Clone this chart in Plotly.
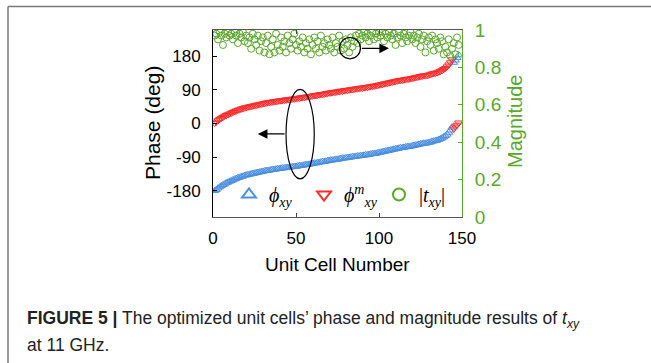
import plotly.graph_objects as go

unit_cells = list(range(1, 149))

phase_xy = [
    -180, -177, -173, -170, -167, -164, -162, -159, -157, -155,
    -153, -151, -149, -147, -145, -144, -142, -141, -139, -138,
    -137, -136, -135, -134, -133, -132, -131, -130, -129, -128,
    -127, -126, -126, -125, -124, -123, -123, -122, -121, -121,
    -120, -119, -119, -118, -118, -117, -116, -116, -115, -115,
    -114, -113, -113, -112, -111, -110, -110, -109, -108, -107,
    -106, -106, -105, -104, -103, -102, -102, -101, -100, -99,
    -98, -98, -97, -96, -96, -95, -94, -93, -93, -92,
    -91, -91, -90, -89, -89, -88, -87, -87, -86, -86,
    -85, -84, -84, -83, -82, -81, -81, -80, -79, -78,
    -77, -76, -75, -74, -73, -72, -71, -70, -69, -68,
    -67, -66, -65, -65, -64, -63, -62, -62, -61, -60,
    -59, -58, -57, -56, -55, -54, -53, -53, -52, -51,
    -50, -48, -47, -46, -45, -43, -41, -39, -36, -33,
    -29, -24, -18, -10,
    163, 169, 176, 183,
]

phase_xy_m = [
    1, 4, 8, 11, 14, 17, 20, 22, 24, 26,
    28, 30, 32, 34, 36, 37, 39, 40, 42, 43,
    44, 45, 46, 47, 48, 49, 50, 51, 52, 53,
    54, 55, 56, 57, 57, 58, 59, 59, 60, 61,
    61, 62, 63, 63, 64, 64, 65, 66, 66, 67,
    68, 68, 69, 70, 70, 71, 72, 72, 73, 74,
    75, 75, 76, 77, 78, 78, 79, 80, 81, 82,
    82, 83, 84, 84, 85, 86, 87, 87, 88, 89,
    89, 90, 91, 91, 92, 93, 93, 94, 95, 95,
    96, 97, 97, 98, 99, 100, 100, 101, 102, 103,
    104, 105, 106, 107, 108, 109, 110, 111, 112, 113,
    114, 115, 116, 116, 117, 118, 119, 119, 120, 121,
    122, 123, 124, 125, 126, 127, 128, 128, 129, 130,
    131, 133, 134, 135, 136, 138, 140, 142, 145, 148,
    152, 157, 163, 171,
    -14, -9, -4, 2,
]

magnitude = [
    0.97, 0.98, 0.95, 0.99, 0.97, 0.92, 0.98, 0.96, 0.99, 0.97,
    0.98, 0.95, 0.99, 0.97, 0.93, 0.98, 0.96, 0.99, 0.94, 0.97,
    0.93, 0.96, 0.90, 0.98, 0.95, 0.92, 0.97, 0.89, 0.94, 0.96,
    0.88, 0.93, 0.97, 0.87, 0.91, 0.95, 0.88, 0.98, 0.92, 0.89,
    0.96, 0.91, 0.94, 0.88, 0.97, 0.93, 0.90, 0.95, 0.98, 0.92,
    0.89, 0.94, 0.91, 0.96, 0.88, 0.93, 0.90, 0.95, 0.87, 0.92,
    0.96, 0.90, 0.94, 0.88, 0.97, 0.91, 0.93, 0.89, 0.95, 0.92,
    0.90, 0.96, 0.88, 0.93, 0.91, 0.97, 0.89, 0.94, 0.90, 0.95,
    0.92, 0.88, 0.96, 0.91, 0.94, 0.97, 0.93, 0.98, 0.95, 0.97,
    0.99, 0.96, 0.98, 0.94, 0.97, 0.99, 0.95, 0.98, 0.96, 0.99,
    0.97, 0.99, 0.94, 0.98, 0.96, 0.99, 0.97, 0.95, 0.98, 0.92,
    0.96, 0.99, 0.97, 0.93, 0.98, 0.96, 0.94, 0.97, 0.99, 0.95,
    0.97, 0.93, 0.96, 0.98, 0.91, 0.95, 0.97, 0.88, 0.94, 0.96,
    0.92, 0.97, 0.89, 0.95, 0.93, 0.90, 0.96, 0.94, 0.87, 0.91,
    0.88, 0.95, 0.86, 0.90, 0.93, 0.87, 0.96, 0.92,
]

x_ticks = [0, 50, 100, 150]
phase_ticks = [-180, -90, 0, 90, 180]
phase_tick_text = ["-180", "-90", "0", "90", "180"]
mag_ticks = [0, 0.2, 0.4, 0.6, 0.8, 1]
mag_tick_text = ["0", "0.2", "0.4", "0.6", "0.8", "1"]

BLUE = "#4a8fe0"
RED = "#ff2b2b"
GREEN = "#5aa82a"
FONT = "Liberation Sans, Arial, sans-serif"
SERIF = "Liberation Serif, Times New Roman, serif"

fig = go.Figure()
fig.add_trace(go.Scatter(
    x=unit_cells, y=phase_xy, mode="markers",
    name="<i>ϕ</i><sub><i>xy</i></sub>",
    marker=dict(symbol="triangle-up-open", size=7, color=BLUE, line=dict(width=1, color=BLUE)),
))
fig.add_trace(go.Scatter(
    x=unit_cells, y=phase_xy_m, mode="markers",
    name="<i>ϕ</i><sup><i>m</i></sup><sub><i>xy</i></sub>",
    marker=dict(symbol="triangle-down-open", size=7, color=RED, line=dict(width=1, color=RED)),
))
fig.add_trace(go.Scatter(
    x=unit_cells, y=magnitude, mode="markers", yaxis="y2",
    name="|<i>t</i><sub><i>xy</i></sub>|",
    marker=dict(symbol="circle-open", size=7, color=GREEN, line=dict(width=1, color=GREEN)),
))

W, H = 651, 363
L, R, T, B = 213, 462, 30, 217


def px(xp):
    return (xp - L) / (R - L)


def py(yp):
    return (B - yp) / (B - T)


fig.update_layout(
    width=W, height=H, autosize=False,
    margin=dict(l=L, r=W - R, t=T, b=H - B, pad=0),
    paper_bgcolor="white", plot_bgcolor="white",
    font=dict(family=FONT, color="black"),
    xaxis=dict(
        range=[0, 150], tickvals=x_ticks, ticks="inside", ticklen=4, tickcolor="#444",
        showline=True, linecolor="#555", linewidth=1, mirror="ticks",
        showgrid=False, zeroline=False, tickfont=dict(size=17, color="black"),
        ticklabelstandoff=6,
    ),
    yaxis=dict(
        range=[-250, 250], tickvals=phase_ticks, ticktext=phase_tick_text,
        ticks="inside", ticklen=4, tickcolor="black",
        showline=True, linecolor="black", linewidth=1,
        showgrid=False, zeroline=False, tickfont=dict(size=17, color="black"),
        ticklabelstandoff=8,
    ),
    yaxis2=dict(
        range=[0, 1], tickvals=mag_ticks, ticktext=mag_tick_text, overlaying="y", side="right",
        ticks="inside", ticklen=4, tickcolor=GREEN,
        showline=True, linecolor=GREEN, linewidth=1,
        showgrid=False, zeroline=False, tickfont=dict(size=19, color=GREEN),
        ticklabelstandoff=8,
    ),
    showlegend=True,
    legend=dict(
        orientation="h", x=px(229), y=py(175), xanchor="left", yanchor="top",
        bgcolor="rgba(0,0,0,0)", font=dict(family=SERIF, size=20, color="black"),
        itemsizing="constant", entrywidth=30, entrywidthmode="pixels", tracegroupgap=0,
    ),
)

# annotation ellipse around the phase curves and arrow pointing to left axis
fig.add_shape(type="circle", xref="x", yref="y", x0=44, x1=61, y0=-148, y1=91,
              line=dict(color="black", width=1.2))
fig.add_shape(type="circle", xref="x", yref="y", x0=76.2, x1=88.8, y0=173, y1=230,
              line=dict(color="black", width=1.2))
fig.add_annotation(x=27, y=-28, ax=44, ay=-28, xref="x", yref="y", axref="x", ayref="y",
                   text="", showarrow=True, arrowhead=2, arrowsize=1.6, arrowwidth=1.2,
                   arrowcolor="black")
fig.add_annotation(x=106, y=201, ax=88.8, ay=201, xref="x", yref="y", axref="x", ayref="y",
                   text="", showarrow=True, arrowhead=2, arrowsize=1.6, arrowwidth=1.2,
                   arrowcolor="black")

# axis titles
fig.add_annotation(text="Phase (deg)", xref="paper", yref="paper", x=px(152), y=py(123),
                   xanchor="center", yanchor="middle",
                   textangle=-90, showarrow=False, font=dict(size=21, color="black"))
fig.add_annotation(text="Magnitude", xref="paper", yref="paper", x=px(515), y=py(122),
                   xanchor="center", yanchor="middle",
                   textangle=-90, showarrow=False, font=dict(size=20, color=GREEN))
fig.add_annotation(text="Unit Cell Number", xref="paper", yref="paper", x=px(337), y=py(264),
                   xanchor="center", yanchor="middle",
                   showarrow=False, font=dict(size=19, color="black"))

# caption
fig.add_annotation(
    text="<b>FIGURE 5 |</b> The optimized unit cells’ phase and magnitude results of <i>t</i><sub><i>xy</i></sub>",
    xref="paper", yref="paper", x=px(25), y=py(319), xanchor="left", yanchor="middle",
    showarrow=False, font=dict(size=17.5, color="#222"))
fig.add_annotation(
    text="at 11 GHz.", xref="paper", yref="paper", x=px(25), y=py(345),
    xanchor="left", yanchor="middle", showarrow=False, font=dict(size=17.5, color="#222"))

# frame of the figure panel
fig.add_shape(type="line", xref="paper", yref="paper", x0=px(8), x1=px(8), y0=py(364), y1=py(6.5),
              line=dict(color="#7a7a7a", width=1.5))
fig.add_shape(type="line", xref="paper", yref="paper", x0=px(8), x1=px(652), y0=py(6.5), y1=py(6.5),
              line=dict(color="#7a7a7a", width=1.5))

fig.write_html("out.html")
